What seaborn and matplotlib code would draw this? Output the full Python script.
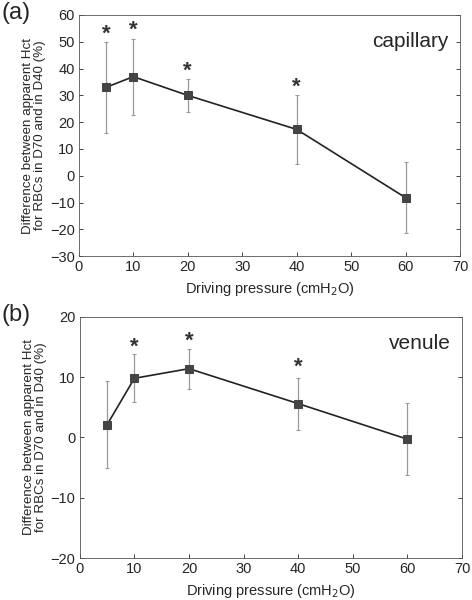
import numpy as np
import pandas as pd
import seaborn as sns
import matplotlib.pyplot as plt

# driving pressure (cmH2O)
pressure = [5, 10, 20, 40, 60]

# panel (a) capillary
cap_mean = [33.0, 37.0, 30.0, 17.3, -8.2]
cap_err = [17.0, 14.2, 6.2, 13.0, 13.2]
cap_star_x = [5, 10, 20, 40]
cap_star_y = [53.0, 54.5, 39.0, 33.0]

# panel (b) venule
ven_mean = [2.1, 9.8, 11.4, 5.6, -0.3]
ven_err = [7.2, 4.0, 3.3, 4.3, 6.0]
ven_star_x = [10, 20, 40]
ven_star_y = [15.0, 16.0, 11.6]

sns.set_style("ticks")
plt.rcParams["font.family"] = ["Liberation Sans", "DejaVu Sans"]

fig = plt.figure(figsize=(4.72, 6), dpi=100)
ax_a = fig.add_axes([0.167, 0.573, 0.808, 0.402])
ax_b = fig.add_axes([0.169, 0.070, 0.810, 0.402])


def draw_panel(ax, mean, err, star_x, star_y, ylim, yticks, label, tag):
    df = pd.DataFrame({"pressure": pressure, "diff": mean})
    ax.errorbar(pressure, mean, yerr=err, fmt="none", ecolor="#999999",
                elinewidth=0.9, capsize=1.5, capthick=0.8, zorder=1)
    sns.lineplot(data=df, x="pressure", y="diff", ax=ax, color="#222222",
                 linewidth=1.2, marker="s", markersize=5.5,
                 markerfacecolor="#444444", markeredgecolor="#444444", zorder=3)
    for sx, sy in zip(star_x, star_y):
        ax.text(sx, sy, "*", ha="center", va="center", fontsize=16,
                fontweight="bold", color="#333333")
    ax.set_xlim(0, 70)
    ax.set_ylim(*ylim)
    ax.set_xticks(range(0, 71, 10))
    ax.set_yticks(yticks)
    ax.tick_params(direction="in", labelsize=10.5, length=3, right=True,
                   top=False, width=0.6, pad=3)
    for s in ax.spines.values():
        s.set_visible(True)
        s.set_linewidth(0.6)
        s.set_color("#555555")
    ax.set_xlabel("Driving pressure (cmH$_2$O)", fontsize=10.5)
    ax.set_ylabel("Difference between apparent Hct\nfor RBCs in D70 and in D40 (%)",
                  fontsize=9.6, labelpad=3, linespacing=1.0)
    ax.text(0.97, 0.93, label, transform=ax.transAxes, ha="right", va="top",
            fontsize=15)
    fig.text(0.003, ax.get_position().y1 + 0.022, tag, ha="left", va="top",
             fontsize=17)


draw_panel(ax_a, cap_mean, cap_err, cap_star_x, cap_star_y, (-30, 60),
           range(-30, 61, 10), "capillary", "(a)")
draw_panel(ax_b, ven_mean, ven_err, ven_star_x, ven_star_y, (-20, 20),
           range(-20, 21, 10), "venule", "(b)")

fig.savefig("out.png", dpi=100)
